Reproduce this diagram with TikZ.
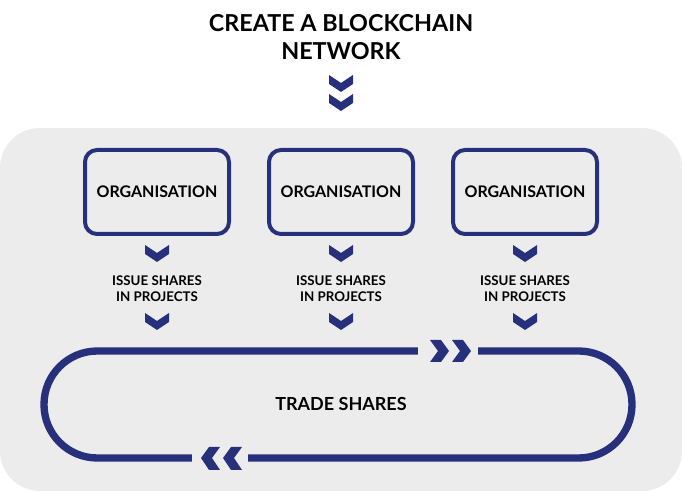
\documentclass[tikz,border=0pt]{standalone}
\usepackage{fontspec}
\setmainfont{Lato}
\definecolor{navy}{HTML}{27307A}
\definecolor{panel}{HTML}{ECECEC}
\tikzset{
  x=0.75pt,y=-0.75pt,
  orgbox/.style={draw=navy,line width=3pt,rounded corners=9pt,minimum width=108pt,minimum height=63pt,font=\fontsize{12}{14}\selectfont\bfseries,inner sep=0pt},
  lbl/.style={font=\fontsize{10}{12}\selectfont\bfseries,align=center},
  chev/.pic={\fill[navy] (-12,0) -- (0,8) -- (12,0) -- (12,9) -- (0,17) -- (-12,9) -- cycle;}
}
\begin{document}
\begin{tikzpicture}
\useasboundingbox (0,0) rectangle (682,491);
\fill[panel,rounded corners=30pt] (0,128) rectangle (682,491);
\node[font=\fontsize{17.5}{21}\selectfont\bfseries,align=center] (title) at (341,37) {CREATE A BLOCKCHAIN\\NETWORK};
\pic at (341,75) {chev};
\pic at (341,94) {chev};
\foreach \i/\x in {1/157,2/341,3/525}{
  \node[orgbox] (o\i) at (\x,192) {ORGANISATION};
  \pic at (\x,245) {chev};
  \node[lbl] (l\i) at (\x,289) {ISSUE SHARES\\IN PROJECTS};
  \pic at (\x,313) {chev};
}
\draw[navy,line width=5.5pt,rounded corners=40pt] (44,351) rectangle (632,458);
\fill[panel] (418,340) rectangle (478,362);
\fill[panel] (192,447) rectangle (248,470);
\node[font=\fontsize{13.5}{16}\selectfont\bfseries] (trade) at (341,404) {TRADE SHARES};
\foreach \x in {430,452}{
  \fill[navy] (\x,340) -- (\x+11,340) -- (\x+19,351) -- (\x+11,362) -- (\x,362) -- (\x+8,351) -- cycle;}
\foreach \x in {242,220}{
  \fill[navy] (\x,447) -- (\x-11,447) -- (\x-19,458) -- (\x-11,470) -- (\x,470) -- (\x-8,458) -- cycle;}
\end{tikzpicture}
\end{document}
